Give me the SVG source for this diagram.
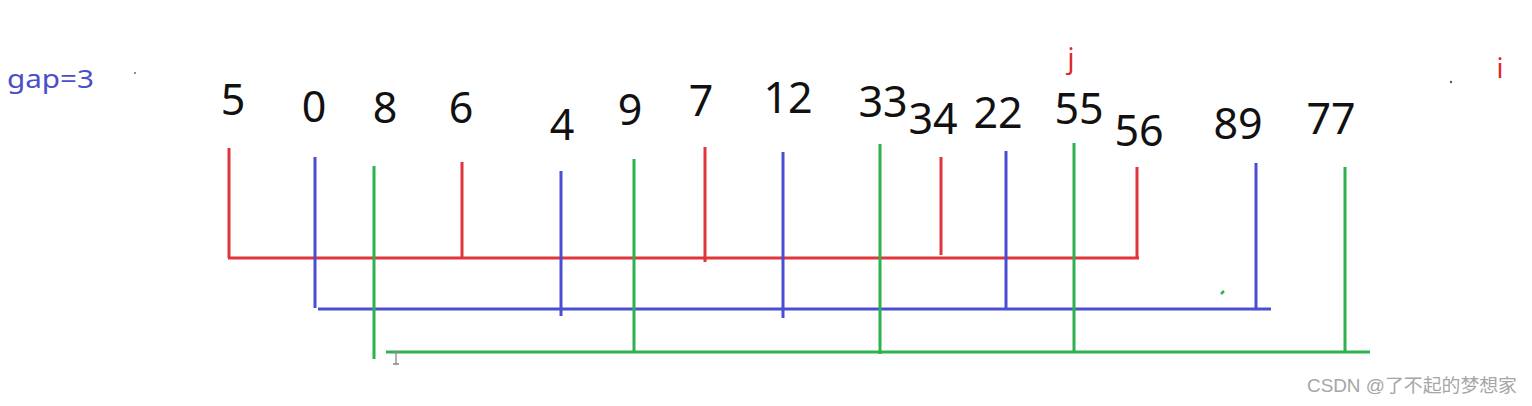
<svg xmlns="http://www.w3.org/2000/svg" width="1532" height="406" viewBox="0 0 1532 406">
<style>
.num{font-family:"Noto Sans","Open Sans",sans-serif;font-size:43px;fill:#111;text-anchor:middle}
.lbl{font-family:"Noto Sans","Open Sans",sans-serif;font-size:27px;fill:#e0262e;text-anchor:middle}
.r{stroke:#e0353b;stroke-width:3;fill:none}
.b{stroke:#4a4ed2;stroke-width:3;fill:none}
.g{stroke:#2cb24f;stroke-width:3;fill:none}
</style>
<rect width="1532" height="406" fill="#fff"/>
<text x="7" y="88" font-family="Noto Sans, Open Sans, sans-serif" font-size="25" fill="#4a4ec8" textLength="87" lengthAdjust="spacingAndGlyphs">gap=3</text>
<g id="nums">
<g id="n5"><text class="num" x="233" y="115">5</text></g>
<g id="n0"><text class="num" x="314" y="122">0</text></g>
<g id="n8"><text class="num" x="385" y="123">8</text></g>
<g id="n6"><text class="num" x="461" y="123">6</text></g>
<g id="n4"><text class="num" x="562" y="140">4</text></g>
<g id="n9"><text class="num" x="630" y="125">9</text></g>
<g id="n7"><text class="num" x="701" y="116">7</text></g>
<g id="n12"><text class="num" x="788" y="113">12</text></g>
<g id="n33"><text class="num" x="883" y="117">33</text></g>
<g id="n34"><text class="num" x="933" y="134">34</text></g>
<g id="n22"><text class="num" x="998" y="128">22</text></g>
<g id="n55"><text class="num" x="1079" y="124">55</text></g>
<g id="n56"><text class="num" x="1139" y="146">56</text></g>
<g id="n89"><text class="num" x="1238" y="139">89</text></g>
<g id="n77"><text class="num" x="1331" y="134">77</text></g>
</g>
<g id="ptr-j"><text class="lbl" x="1071" y="68">j</text></g>
<g id="ptr-i"><text class="lbl" x="1500" y="78">i</text></g>
<g id="connectors">
<path class="r" d="M229 148V258M462 162V258M705 147V262M941 157V255M1137 167V258M228 258H1139"/>
<path class="b" d="M315 157V308M561 171V316M783 152V318M1006 151V309M1256 163V309M318 309H1271"/>
<path class="g" d="M374 166V359M634 159V352M880 144V354M1074 143V353M1345 167V352M386 352H1370"/>
</g>
<g id="marks">
<circle cx="135" cy="73" r="1" fill="#667"/>
<circle cx="1451" cy="82" r="1.2" fill="#556"/>
<path d="M1221 294L1224 291" stroke="#2cb24f" stroke-width="2.5"/>
<path d="M393 352H399M396 352V364M393 364H399" stroke="#888" stroke-width="1.3" fill="none"/>
</g>
<text x="1307" y="392" font-family="Liberation Sans, Noto Sans CJK SC, sans-serif" font-size="18.5" fill="#a6a6a6" textLength="210" lengthAdjust="spacingAndGlyphs">CSDN @了不起的梦想家</text>
</svg>
